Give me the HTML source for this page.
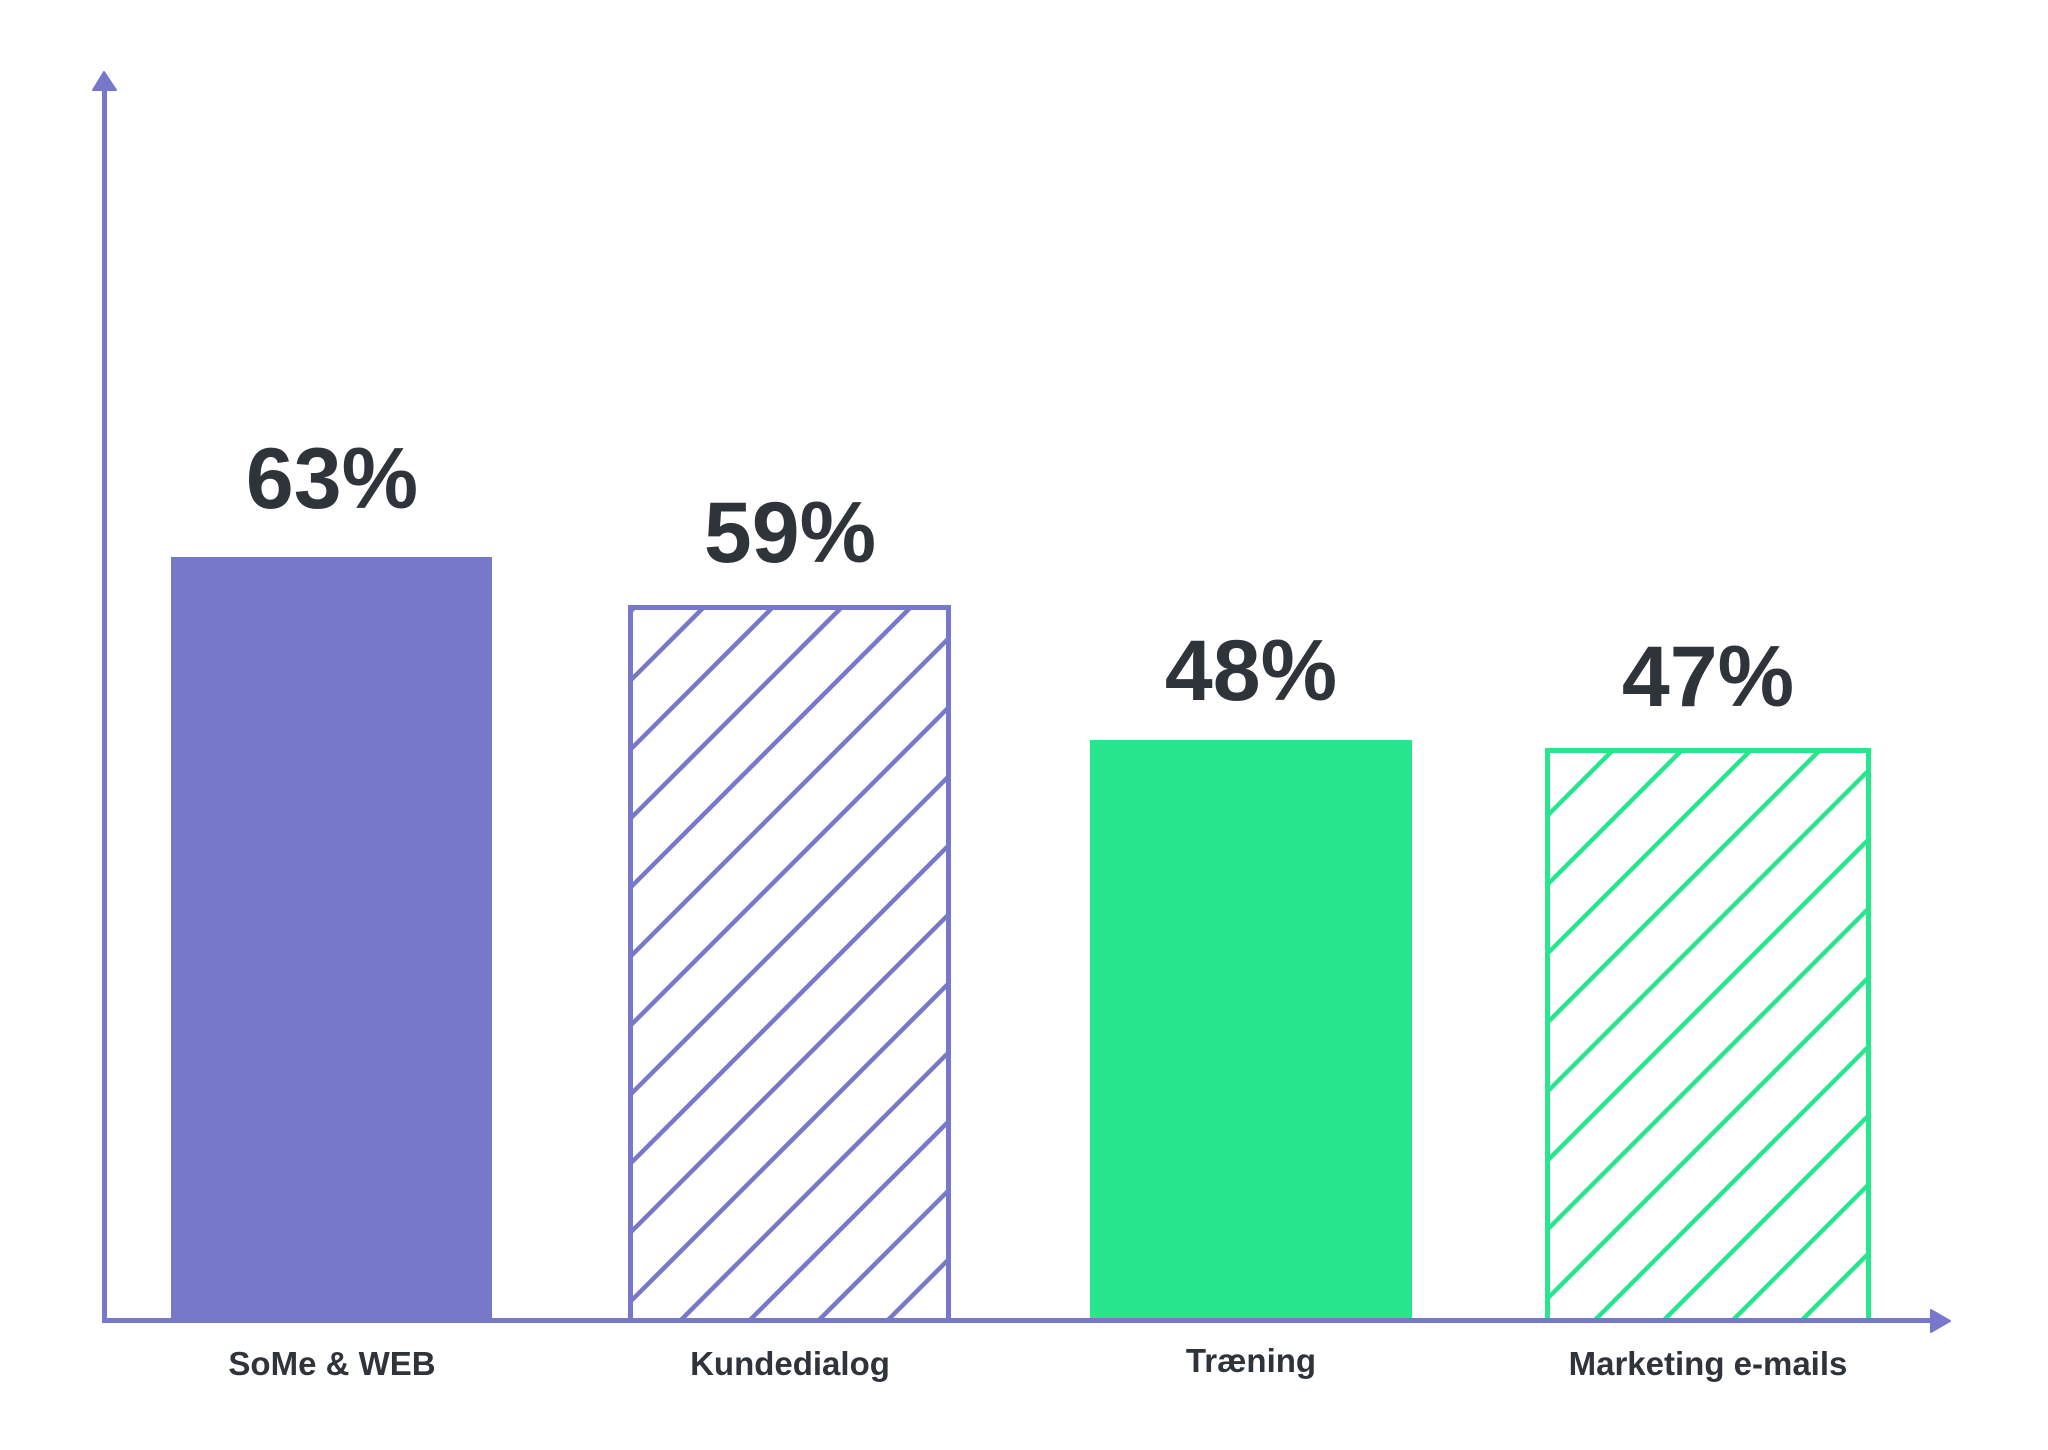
<!DOCTYPE html>
<html><head><meta charset="utf-8"><style>html,body{margin:0;padding:0;background:#fff;width:2048px;height:1450px;overflow:hidden}svg{display:block;vertical-align:top}</style></head>
<body>
<svg width="2048" height="1450" viewBox="0 0 2048 1450" xmlns="http://www.w3.org/2000/svg">
<defs>
<clipPath id="c2"><rect x="630" y="607" width="319" height="713"/></clipPath>
<clipPath id="c4"><rect x="1547" y="750" width="322" height="570"/></clipPath>
</defs>
<rect x="171" y="557" width="321" height="764" fill="#7878CA"/>
<rect x="1090" y="740" width="322" height="581" fill="#27E68E"/>
<g clip-path="url(#c2)" stroke="#7878CA" stroke-width="4.5">
<path id="h2" d="M1311 0 L-200 1511"/>
<use href="#h2" x="-69"/><use href="#h2" x="69"/><use href="#h2" x="138"/><use href="#h2" x="207"/><use href="#h2" x="276"/><use href="#h2" x="345"/><use href="#h2" x="414"/><use href="#h2" x="483"/><use href="#h2" x="552"/><use href="#h2" x="621"/><use href="#h2" x="690"/><use href="#h2" x="759"/><use href="#h2" x="828"/><use href="#h2" x="897"/><use href="#h2" x="966"/>
</g>
<rect x="630.5" y="607.5" width="318" height="713" fill="none" stroke="#7878CA" stroke-width="5"/>
<g clip-path="url(#c4)" stroke="#27E68E" stroke-width="4.5">
<path id="h4" d="M2363 0 L800 1563"/>
<use href="#h4" x="-69"/><use href="#h4" x="69"/><use href="#h4" x="138"/><use href="#h4" x="207"/><use href="#h4" x="276"/><use href="#h4" x="345"/><use href="#h4" x="414"/><use href="#h4" x="483"/><use href="#h4" x="552"/><use href="#h4" x="621"/><use href="#h4" x="690"/><use href="#h4" x="759"/><use href="#h4" x="828"/>
</g>
<rect x="1547.5" y="750.5" width="321" height="570" fill="none" stroke="#27E68E" stroke-width="5"/>
<line x1="104.5" y1="85" x2="104.5" y2="1321" stroke="#7878CA" stroke-width="5"/>
<polygon points="104,72 93,90 116,90" fill="#7878CA" stroke="#7878CA" stroke-width="2" stroke-linejoin="round"/>
<line x1="102" y1="1320.5" x2="1935" y2="1320.5" stroke="#7878CA" stroke-width="5"/>
<polygon points="1950,1321 1931,1310 1931,1332" fill="#7878CA" stroke="#7878CA" stroke-width="2" stroke-linejoin="round"/>
<g font-family="Liberation Sans, sans-serif" font-weight="bold" fill="#2F343B" text-anchor="middle" font-size="86">
<text x="332" y="508">63%</text>
<text x="790" y="562">59%</text>
<text x="1251" y="700">48%</text>
<text x="1708" y="706">47%</text>
</g>
<g font-family="Liberation Sans, sans-serif" font-weight="bold" fill="#2F343B" text-anchor="middle" font-size="33">
<text x="332" y="1375">SoMe &amp; WEB</text>
<text x="790" y="1375">Kundedialog</text>
<text x="1251" y="1372">Træning</text>
<text x="1708" y="1375">Marketing e-mails</text>
</g>
</svg>
</body></html>
